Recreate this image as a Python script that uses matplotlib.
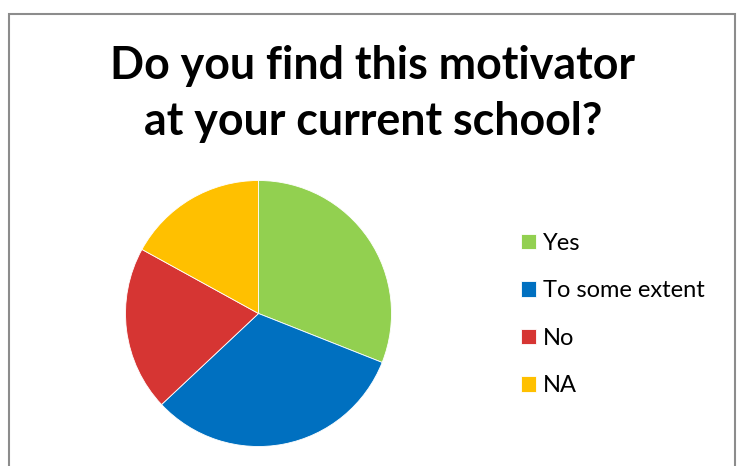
import matplotlib.pyplot as plt
from matplotlib.patches import Rectangle

# Data (share of responses)
labels = ['Yes', 'To some extent', 'No', 'NA']
values = [31, 32, 20, 17]
colors = ['#92d050', '#0070c0', '#d63533', '#ffc000']

W, H = 738, 466
fig = plt.figure(figsize=(W / 100, H / 100), dpi=100)

# Chart border (Excel style frame)
fig.patches.append(Rectangle((9 / W, -0.05), 726 / W, (H - 14) / H + 0.05,
                             transform=fig.transFigure, fill=False,
                             edgecolor='#8c8c8c', linewidth=1.5))

# Title
fig.text(373 / W, 1 - 66 / H, 'Do you find this motivator',
         ha='center', va='center', fontsize=32.2, fontweight='bold', family='Lato')
fig.text(373 / W, 1 - 122 / H, 'at your current school?',
         ha='center', va='center', fontsize=32.2, fontweight='bold', family='Lato')

# Pie
cx, cy, r = 258.5, 313.5, 133
ax = fig.add_axes([(cx - r) / W, (H - cy - r) / H, 2 * r / W, 2 * r / H])
wedges, _ = ax.pie(values, colors=colors, startangle=90, counterclock=False,
                   radius=1, wedgeprops=dict(edgecolor='white', linewidth=0.6))
ax.set_xlim(-1, 1)
ax.set_ylim(-1, 1)
ax.set_aspect('equal')

# Legend
fig.legend(wedges, labels, loc='upper left', bbox_to_anchor=(502 / W, 1 - 214 / H),
           frameon=False, handlelength=0.64, handleheight=0.64,
           handletextpad=0.3, labelspacing=1.12, borderpad=0.3,
           prop={'family': 'Lato', 'size': 17})

fig.savefig('out.png', dpi=100)
